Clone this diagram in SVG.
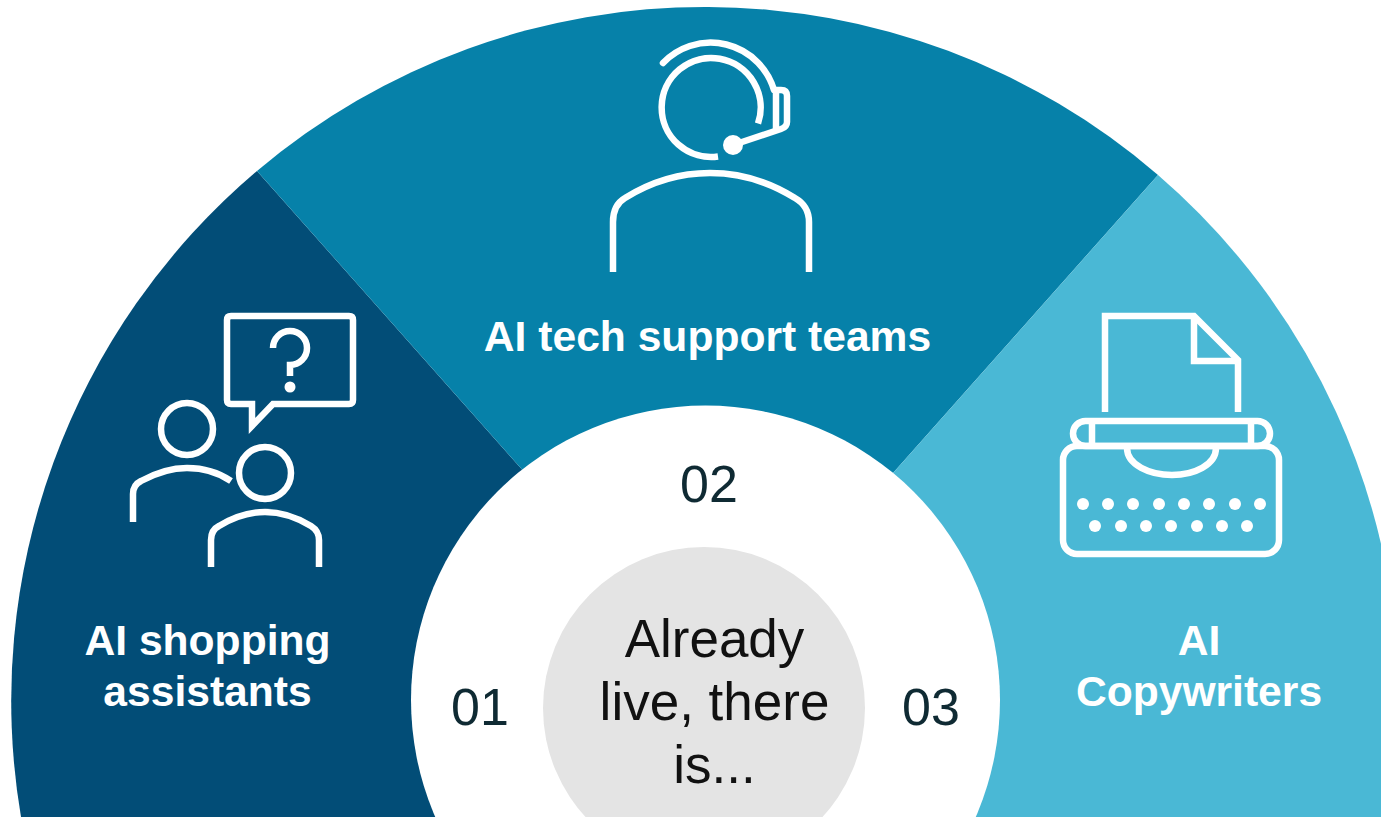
<svg xmlns="http://www.w3.org/2000/svg" width="1381" height="817" viewBox="0 0 1381 817">
<style>
text{font-family:"Liberation Sans",Arial,sans-serif}
.l{font-size:42.6px;font-weight:700;fill:#fff;text-anchor:middle}
.n{font-size:52px;fill:#0f2a33;text-anchor:middle}
.c{font-size:53px;fill:#111;text-anchor:middle}
.i{fill:none;stroke:#fff;stroke-width:6.5}
.d{fill:#fff}
</style>
<rect width="1381" height="817" fill="#fff"/>
<g id="segments">
<g id="seg-01"><path d="M709,680 L257,171 A694,694 0 0 0 21,817 L709,817 Z" fill="#024d77"/></g>
<g id="seg-02"><path d="M709,680 L257,171 A694,694 0 0 1 1158,175 Z" fill="#0681a9"/></g>
<g id="seg-03"><path d="M709,680 L1158,175 A694,694 0 0 1 1399,700 L1399,817 L709,817 Z" fill="#4ab8d5"/></g>
</g>
<g id="hub"><circle cx="705.5" cy="700" r="294.5" fill="#fff"/></g>
<g id="center"><circle cx="704" cy="708" r="161" fill="#e4e4e4"/>
<text class="c" x="714.5" y="656.5">Already</text><text class="c" x="714.5" y="719.5">live, there</text><text class="c" x="714.5" y="782.5">is...</text></g>
<g id="node-01">
<path class="i" d="M252,404 H231 Q227,404 227,400 V320 Q227,316 231,316 H349 Q353,316 353,320 V400 Q353,404 349,404 H273 L252,426 Z"/>
<path class="i" d="M273,348 A17,17 0 1 1 290,365 V376"/><circle class="d" cx="290" cy="387" r="5.5"/>
<circle class="i" cx="187" cy="429" r="26"/>
<path class="i" d="M133,522 V494 Q133,485 141,481 Q165,468 187,468 Q212,468 231,481"/>
<circle class="i" cx="265" cy="473" r="26"/>
<path class="i" d="M211,567 V540 Q211,530 219,526 Q242,512 265,512 Q288,512 311,526 Q319,531 319,540 V567"/>
<text class="l" x="207.5" y="654.5">AI shopping</text><text class="l" x="207.5" y="705.5">assistants</text>
<text class="n" x="480" y="725">01</text>
</g>
<g id="node-02">
<path class="i" d="M718,156.5 A49.5,49.5 0 1 1 758,123.5"/>
<path class="i" stroke-linecap="round" d="M663,63 A66,66 0 0 1 774,90"/>
<path class="i" stroke-linejoin="round" d="M776,90 H781 Q787,90 787,96 V122 Q787,127 781,129 L733,145"/>
<path class="i" d="M776,90 V130"/>
<circle class="d" cx="733" cy="145" r="10"/>
<path class="i" d="M613,272 V222 Q613,205 625,198 Q665,173 710,173 Q755,173 795,198 Q809,206 809,222 V272"/>
<text class="l" x="707.5" y="350.5">AI tech support teams</text>
<text class="n" x="709" y="502">02</text>
</g>
<g id="node-03">
<path class="i" d="M1105,412 V316 H1194 L1238,360 V412"/><path class="i" d="M1194,316 V361 H1238"/>
<rect class="i" x="1073" y="421" width="197" height="25" rx="12.5"/>
<path class="i" d="M1092,421 V446 M1251,421 V446"/>
<rect class="i" x="1063" y="446" width="216" height="108" rx="14"/>
<path class="i" d="M1127,448 C1127,465 1150,475 1172,475 C1194,475 1216,465 1216,448"/>
<g class="d"><circle cx="1083" cy="504" r="6"/><circle cx="1108" cy="504" r="6"/><circle cx="1133" cy="504" r="6"/><circle cx="1159" cy="504" r="6"/><circle cx="1184" cy="504" r="6"/><circle cx="1209" cy="504" r="6"/><circle cx="1235" cy="504" r="6"/><circle cx="1260" cy="504" r="6"/>
<circle cx="1095" cy="526" r="6"/><circle cx="1121" cy="526" r="6"/><circle cx="1146" cy="526" r="6"/><circle cx="1171" cy="526" r="6"/><circle cx="1197" cy="526" r="6"/><circle cx="1222" cy="526" r="6"/><circle cx="1247" cy="526" r="6"/></g>
<text class="l" x="1199" y="654.5">AI</text><text class="l" x="1199" y="705.5">Copywriters</text>
<text class="n" x="931" y="725">03</text>
</g>
<g id="connectors"></g>
</svg>
